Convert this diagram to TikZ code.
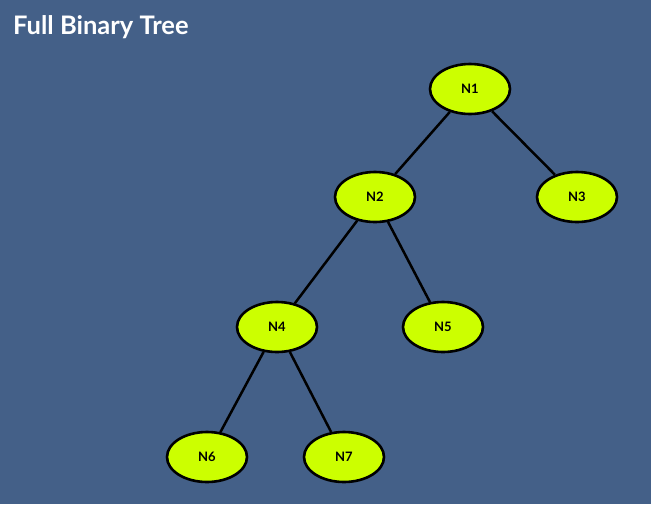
\documentclass[tikz,border=0pt]{standalone}
\usepackage{fontspec}
\setmainfont{Lato}
\usetikzlibrary{shapes.geometric}
\definecolor{bgblue}{HTML}{446088}
\definecolor{nodelime}{HTML}{CCFF00}
\tikzset{
  treenode/.style={ellipse, draw=black, fill=nodelime, line width=2.6pt,
    minimum width=80pt, minimum height=50pt, inner sep=0pt,
    font=\fontsize{13}{15}\selectfont\bfseries},
  treeedge/.style={draw=black, line width=2.5pt}
}
\begin{document}
\begin{tikzpicture}[x=1pt, y=-1pt]
  \fill[bgblue] (0,0) rectangle (651,504);
  \useasboundingbox (0,0) rectangle (651,504);
  \node[anchor=west, inner sep=0pt, text=white, font=\fontsize{25.5}{29}\selectfont\bfseries] (title) at (13,27) {Full Binary Tree};
  \node[treenode] (n1) at (470,89) {N1};
  \node[treenode] (n2) at (375,197) {N2};
  \node[treenode] (n3) at (577,197) {N3};
  \node[treenode] (n4) at (277,327) {N4};
  \node[treenode] (n5) at (443,327) {N5};
  \node[treenode] (n6) at (207,457) {N6};
  \node[treenode] (n7) at (344,457) {N7};
  \draw[treeedge] (n1) -- (n2);
  \draw[treeedge] (n1) -- (n3);
  \draw[treeedge] (n2) -- (n4);
  \draw[treeedge] (n2) -- (n5);
  \draw[treeedge] (n4) -- (n6);
  \draw[treeedge] (n4) -- (n7);
\end{tikzpicture}
\end{document}
